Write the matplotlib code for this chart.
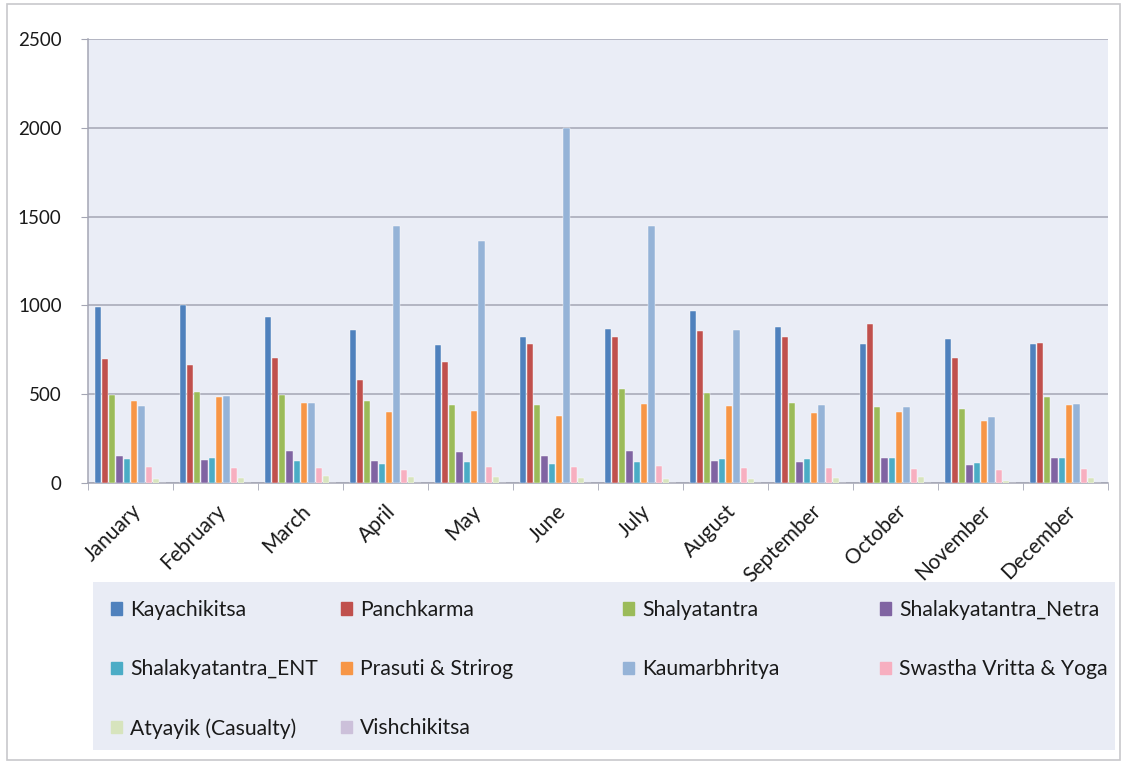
import matplotlib
matplotlib.use("Agg")
import matplotlib.pyplot as plt
import matplotlib.patches as mpatches
import numpy as np

months = ["January", "February", "March", "April", "May", "June", "July",
          "August", "September", "October", "November", "December"]

kayachikitsa = [990, 1005, 933, 860, 779, 820, 867, 966, 880, 780, 808, 784]
panchkarma = [696, 667, 705, 582, 680, 781, 823, 854, 823, 897, 706, 790]
shalyatantra = [496, 513, 496, 459, 440, 440, 530, 506, 452, 430, 415, 485]
netra = [154, 129, 181, 125, 172, 150, 182, 124, 118, 140, 104, 140]
ent = [135, 143, 125, 105, 116, 107, 116, 133, 133, 140, 114, 140]
prasuti = [464, 483, 449, 401, 403, 376, 445, 435, 392, 402, 350, 437]
kaumar = [433, 490, 449, 1446, 1365, 2000, 1449, 859, 439, 428, 369, 443]
swastha = [91, 87, 86, 73, 88, 88, 95, 84, 82, 80, 76, 80]
atyayik = [25, 30, 40, 36, 32, 26, 20, 21, 30, 32, 13, 26]
vish = [1, 1, 1, 1, 1, 1, 1, 1, 1, 1, 1, 1]

series_names = ["Kayachikitsa", "Panchkarma", "Shalyatantra", "Shalakyatantra_Netra",
                "Shalakyatantra_ENT", "Prasuti & Strirog", "Kaumarbhritya",
                "Swastha Vritta & Yoga", "Atyayik (Casualty)", "Vishchikitsa"]
series_values = [kayachikitsa, panchkarma, shalyatantra, netra, ent, prasuti,
                 kaumar, swastha, atyayik, vish]
colors = ["#4F81BD", "#C0504D", "#9BBB59", "#8064A2", "#4BACC6", "#F79646",
          "#95B3D7", "#F7AFC0", "#D7E4BD", "#CCC0DA"]

FONT = ["Lato", "DejaVu Sans"]
plt.rcParams['font.family'] = FONT

W, H = 1126, 764
fig = plt.figure(figsize=(W / 100, H / 100), dpi=100)
fig.patch.set_facecolor("white")

# outer border
fig.patches.append(mpatches.Rectangle((7 / W, 4 / H), (1120 - 7) / W, (760 - 4) / H,
                                      transform=fig.transFigure, fill=False,
                                      edgecolor="#c8c8cc", linewidth=1.2, zorder=0))

left, right, top, bottom = 88, 1108, 39, 483
ax = fig.add_axes([left / W, 1 - bottom / H, (right - left) / W, (bottom - top) / H])
ax.set_facecolor("#eaedf6")

x = np.arange(len(months))
n = len(series_values)
slot = 0.086
bw = 0.072
for k, (name, vals, c) in enumerate(zip(series_names, series_values, colors)):
    ax.bar(x + (k - (n - 1) / 2) * slot, vals, width=bw, color=c,
           edgecolor="white", linewidth=0.3, label=name, zorder=3)

ax.set_xlim(-0.5, len(months) - 0.5)
ax.set_ylim(0, 2500)
ax.set_yticks(np.arange(0, 2501, 500))
ax.grid(axis="y", color="#a4a6b4", linewidth=1.1, zorder=1)
ax.set_axisbelow(True)
for s in ["top", "right"]:
    ax.spines[s].set_visible(False)
for s in ["left", "bottom"]:
    ax.spines[s].set_color("#a4a6b4")
    ax.spines[s].set_linewidth(1.1)

ax.set_xticks(x)
ax.set_xticklabels(months, rotation=45, ha="right", rotation_mode="anchor",
                   fontsize=15, color="#1a1a1a")
ax.set_xticks(np.arange(-0.5, len(months) + 0.5, 1), minor=True)
ax.tick_params(axis="x", which="major", length=0, pad=13)
ax.tick_params(axis="x", which="minor", length=5, color="#a4a6b4", direction="out")
ax.tick_params(axis="y", length=5, color="#a4a6b4", labelsize=13.5, labelcolor="#1a1a1a", pad=14)

# legend background (drawn above axes so it overlaps long month labels)
lx0, ly0, lx1, ly1 = 93, 582, 1115, 750
fig.patches.append(mpatches.Rectangle((lx0 / W, 1 - ly1 / H), (lx1 - lx0) / W, (ly1 - ly0) / H,
                                      transform=fig.transFigure, facecolor="#e9ecf5",
                                      edgecolor="none", zorder=4))

handles = [mpatches.Patch(color=c) for c in colors]
# row-major fill into 4 columns
columns = [[0, 4, 8], [1, 5, 9], [2, 6], [3, 7]]
col_x = [111, 341, 623, 880]
for cx, idxs in zip(col_x, columns):
    leg = fig.legend([handles[i] for i in idxs], [series_names[i] for i in idxs],
                     loc="upper left", bbox_to_anchor=(cx / W, 1 - 600 / H),
                     frameon=False, fontsize=15.2, ncol=1, borderpad=0,
                     handlelength=0.5, handleheight=0.5, handletextpad=0.4,
                     labelspacing=1.85, borderaxespad=0)
    leg.set_zorder(5)
    for t in leg.get_texts():
        t.set_color("#1a1a1a")

fig.savefig("out.png", dpi=100, facecolor=fig.get_facecolor())
